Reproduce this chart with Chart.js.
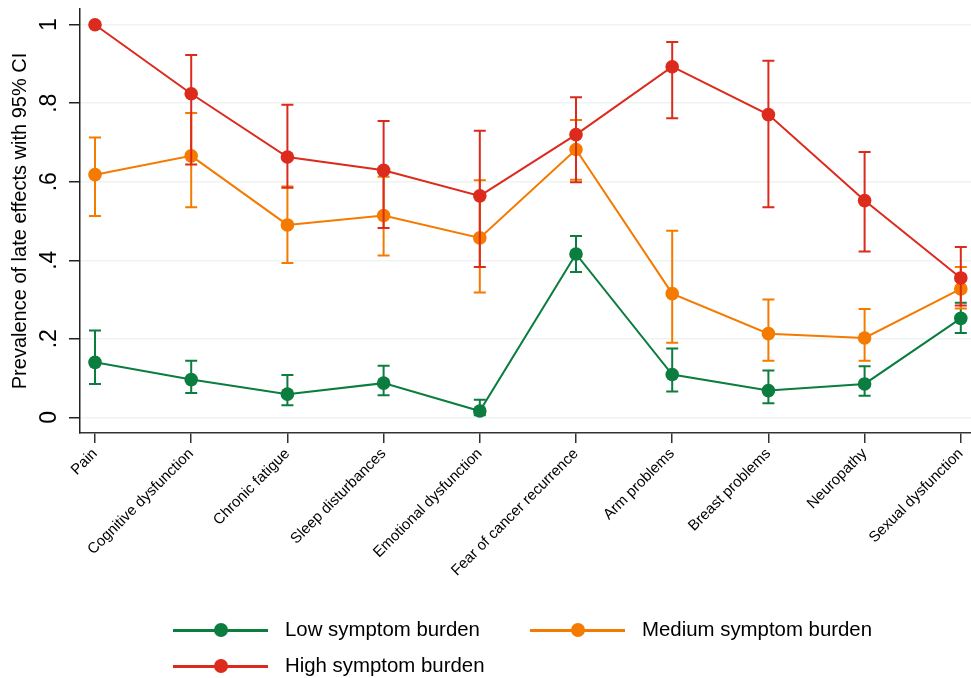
<!DOCTYPE html>
<html>
<head>
<meta charset="utf-8">
<script src="https://cdn.jsdelivr.net/npm/chart.js@4"></script>
<style>
  body { margin: 0; background: #fff; }
  #wrap { position: relative; width: 971px; height: 678px; }
  .item { position: absolute; height: 20px; font: 20.4px 'Liberation Sans', Arial, sans-serif; color: #000; white-space: nowrap; }
  .item .ln { position: absolute; top: 9px; height: 2.5px; width: 95px; }
  .item .dot { position: absolute; top: 3px; width: 14px; height: 14px; border-radius: 50%; left: 41px; }
  .item .tx { position: absolute; left: 112px; top: -2px; }
</style>
</head>
<body>
<div id="wrap">
  <canvas id="chart" width="971" height="678"></canvas>
</div>
<script>
// カテゴリ
const categories = ['Pain', 'Cognitive dysfunction', 'Chronic fatigue', 'Sleep disturbances', 'Emotional dysfunction',
  'Fear of cancer recurrence', 'Arm problems', 'Breast problems', 'Neuropathy', 'Sexual dysfunction'];

// 各グループの有病率と95%CI
const lowMean  = [0.140, 0.096, 0.059, 0.087, 0.016, 0.416, 0.109, 0.068, 0.085, 0.252];
const lowLower = [0.085, 0.062, 0.031, 0.056, 0.005, 0.370, 0.066, 0.036, 0.055, 0.215];
const lowUpper = [0.221, 0.144, 0.108, 0.131, 0.045, 0.462, 0.175, 0.119, 0.130, 0.292];

const medMean  = [0.618, 0.666, 0.490, 0.514, 0.457, 0.682, 0.315, 0.213, 0.202, 0.327];
const medLower = [0.513, 0.535, 0.393, 0.412, 0.318, 0.605, 0.190, 0.144, 0.144, 0.277];
const medUpper = [0.713, 0.775, 0.588, 0.613, 0.604, 0.757, 0.475, 0.300, 0.276, 0.383];

const highMean  = [1.000, 0.824, 0.663, 0.629, 0.564, 0.720, 0.893, 0.771, 0.552, 0.355];
const highLower = [null, 0.644, 0.585, 0.482, 0.383, 0.599, 0.762, 0.535, 0.422, 0.285];
const highUpper = [null, 0.923, 0.796, 0.755, 0.730, 0.815, 0.956, 0.908, 0.676, 0.434];

// y軸の目盛り
const yTicks = [0, 0.2, 0.4, 0.6, 0.8, 1];

const GREEN = '#0b7d3e';
const ORANGE = '#f47a00';
const RED = '#dc2a1c';

const series = [
  { label: 'Low symptom burden', mean: lowMean, lower: lowLower, upper: lowUpper, color: GREEN, order: 2 },
  { label: 'Medium symptom burden', mean: medMean, lower: medLower, upper: medUpper, color: ORANGE, order: 1 },
  { label: 'High symptom burden', mean: highMean, lower: highLower, upper: highUpper, color: RED, order: 0 },
];

// エラーバー（各データセットの前に描画）
const errorBars = {
  id: 'errorBars',
  beforeDatasetDraw(chart, args) {
    const s = series[args.index];
    const x = chart.scales.x, y = chart.scales.y;
    const ctx = chart.ctx;
    ctx.save();
    ctx.strokeStyle = s.color;
    ctx.lineWidth = 2;
    s.mean.forEach((m, i) => {
      if (s.lower[i] == null || s.upper[i] == null) return;
      const px = x.getPixelForValue(i);
      const lo = y.getPixelForValue(s.lower[i]);
      const hi = y.getPixelForValue(s.upper[i]);
      ctx.beginPath();
      ctx.moveTo(px, lo); ctx.lineTo(px, hi);
      ctx.moveTo(px - 6, lo); ctx.lineTo(px + 6, lo);
      ctx.moveTo(px - 6, hi); ctx.lineTo(px + 6, hi);
      ctx.stroke();
    });
    ctx.restore();
  }
};

Chart.defaults.font.family = "'Liberation Sans', Arial, sans-serif";
Chart.defaults.color = '#000';

const ctx = document.getElementById('chart').getContext('2d');
new Chart(ctx, {
  type: 'line',
  data: {
    datasets: series.map(s => ({
      label: s.label,
      data: s.mean.map((v, i) => ({ x: i, y: v })),
      borderColor: s.color,
      backgroundColor: s.color,
      pointBackgroundColor: s.color,
      pointBorderWidth: 0,
      pointRadius: 6.8,
      borderWidth: 2,
      tension: 0,
      clip: false,
      order: s.order,
    })),
  },
  options: {
    responsive: false,
    animation: false,
    layout: { autoPadding: false, padding: { top: 9, right: 0, bottom: 75, left: 0 } },
    plugins: { legend: { display: false }, tooltip: { enabled: false } },
    scales: {
      x: {
        type: 'linear',
        min: -0.156,
        max: 9.106,
        afterBuildTicks: (scale) => { scale.ticks = categories.map((c, i) => ({ value: i })); },
        afterFit: (scale) => { scale.height = 170; scale.paddingLeft = 0; scale.paddingRight = 0; },
        ticks: {
          callback: (v) => categories[v],
          minRotation: 45,
          maxRotation: 45,
          font: { size: 15 },
          padding: 2,
        },
        grid: { drawOnChartArea: false, tickLength: 10, tickColor: '#333', lineWidth: 1.5 },
        border: { color: '#333', width: 1.5 },
      },
      y: {
        min: -0.04,
        max: 1.04,
        afterBuildTicks: (scale) => { scale.ticks = yTicks.map(v => ({ value: v })); },
        afterFit: (scale) => { scale.width = 80; scale.paddingTop = 0; scale.paddingBottom = 0; },
        ticks: {
          callback: (v) => (v === 0 ? '0' : v === 1 ? '1' : '.' + Math.round(v * 10)),
          minRotation: 90,
          maxRotation: 90,
          crossAlign: 'center',
          font: { size: 23 },
          padding: 10,
        },
        title: {
          display: true,
          text: 'Prevalence of late effects with 95% CI',
          font: { size: 20 },
          padding: { top: 8, bottom: 0 },
        },
        grid: { color: '#eef4f2', lineWidth: 1.5, tickLength: 11, tickColor: '#222' },
        border: { color: '#222', width: 1.5 },
      },
    },
  },
  plugins: [errorBars],
});

// 凡例
const legendPos = [
  { left: 173, top: 620 },
  { left: 530, top: 620 },
  { left: 173, top: 656 },
];
const wrap = document.getElementById('wrap');
series.forEach((s, i) => {
  const d = document.createElement('div');
  d.className = 'item';
  d.style.left = legendPos[i].left + 'px';
  d.style.top = legendPos[i].top + 'px';
  d.innerHTML = '<div class="ln" style="background:' + s.color + '"></div>' +
    '<div class="dot" style="background:' + s.color + '"></div>' +
    '<div class="tx">' + s.label + '</div>';
  wrap.appendChild(d);
});
</script>
</body>
</html>
